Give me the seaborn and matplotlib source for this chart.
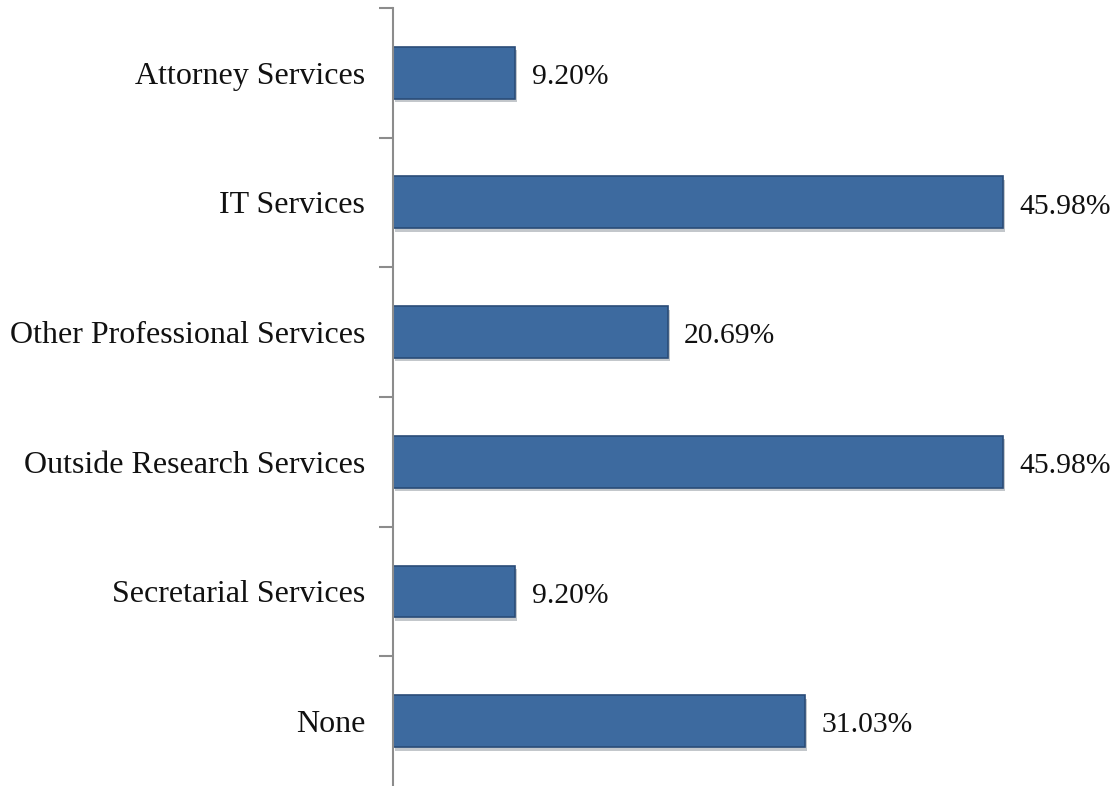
import matplotlib
matplotlib.use("Agg")
import matplotlib.pyplot as plt
import matplotlib.patheffects as pe
import pandas as pd
import seaborn as sns

categories = ["Attorney Services", "IT Services", "Other Professional Services",
              "Outside Research Services", "Secretarial Services", "None"]
values = [9.20, 45.98, 20.69, 45.98, 9.20, 31.03]

df = pd.DataFrame({"service": categories, "pct": values})

sns.set_theme(style="white")
plt.rcParams["font.family"] = ["Liberation Serif", "DejaVu Serif"]

fig = plt.figure(figsize=(11.2, 7.86), dpi=100)
ax = fig.add_axes([0.351, 0.0, 0.649, 0.99])

sns.barplot(data=df, x="pct", y="service", orient="h", ax=ax,
            color="#3D6A9F", width=0.40, saturation=1,
            edgecolor="#2A4C78", linewidth=1.2)

for bar in ax.patches:
    bar.set_path_effects([pe.SimplePatchShadow(offset=(1.5, -2.5), alpha=0.25),
                          pe.Normal()])

# value labels, a little below bar centre like the original
for i, v in enumerate(values):
    ax.annotate(f"{v:.2f}%", xy=(v, i), xytext=(12, -3),
                textcoords="offset points", ha="left", va="center",
                fontsize=21.3, color="#111111")

ax.set_xlim(0, 54.8)
ax.set_ylim(len(categories) - 0.5, -0.5)
ax.set_xlabel("")
ax.set_ylabel("")
ax.set_xticks([])

# labels sit at category centres, tick marks at the boundaries
ax.set_yticks([i - 0.5 for i in range(len(categories))])
ax.set_yticklabels([])
ax.set_yticks(range(len(categories)), minor=True)
ax.set_yticklabels(categories, minor=True, fontsize=23, color="#111111",
                   va="center_baseline")
ax.tick_params(axis="y", which="major", length=10, width=1.5, color="#8C8C8C",
               left=True, direction="out")
ax.tick_params(axis="y", which="minor", length=0, pad=20)

for side in ["top", "right", "bottom"]:
    ax.spines[side].set_visible(False)
ax.spines["left"].set_color("#8C8C8C")
ax.spines["left"].set_linewidth(1.5)

fig.savefig("out.png", dpi=100, facecolor="white")
